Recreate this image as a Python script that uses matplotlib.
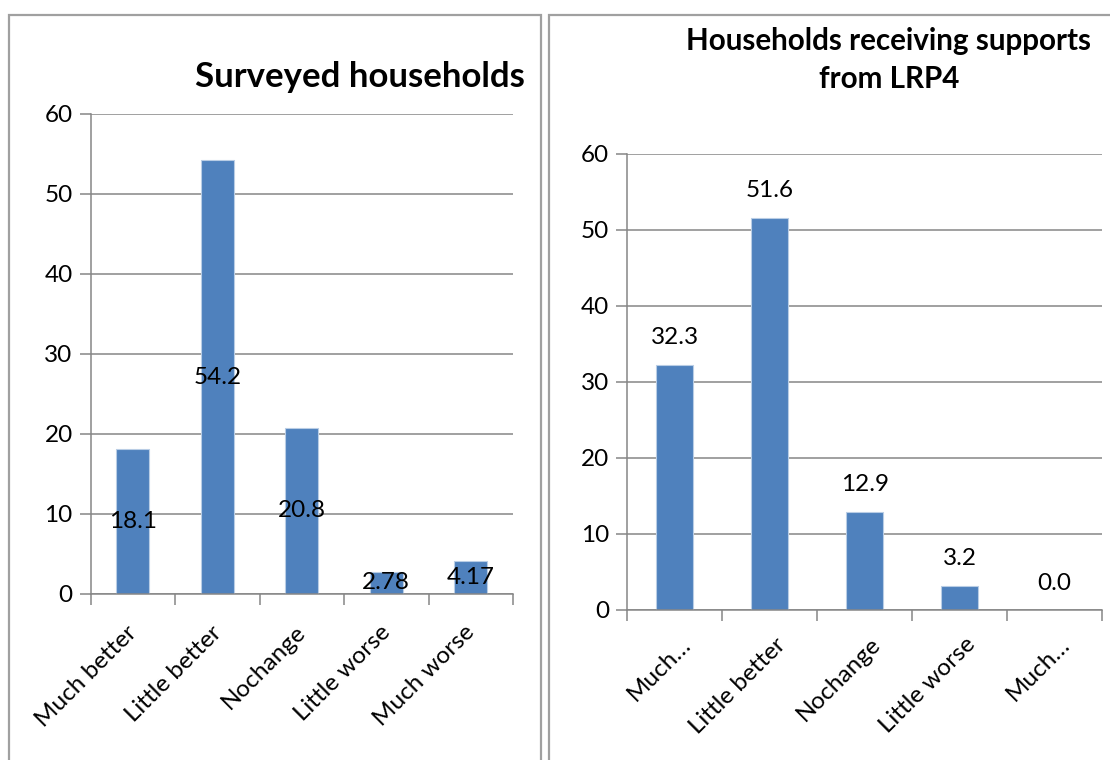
import matplotlib
matplotlib.use("Agg")
import matplotlib.pyplot as plt
import matplotlib.transforms as mtrans
from matplotlib.patches import Rectangle

plt.rcParams['font.family'] = ['Lato', 'DejaVu Sans']

# Data
categories_left = ['Much better', 'Little better', 'Nochange', 'Little worse', 'Much worse']
values_left = [18.1, 54.2, 20.8, 2.78, 4.17]
labels_left = ['18.1', '54.2', '20.8', '2.78', '4.17']

categories_right = ['Much…', 'Little better', 'Nochange', 'Little worse', 'Much…']
values_right = [32.3, 51.6, 12.9, 3.2, 0.0]
labels_right = ['32.3', '51.6', '12.9', '3.2', '0.0']

yticks = [0, 10, 20, 30, 40, 50, 60]

BAR = '#4F81BD'
EDGE = '#B9CDE5'
GRID = '#868686'
W, H = 1110, 760
FS = 17.5

fig = plt.figure(figsize=(W / 100, H / 100), dpi=100)

# panel borders
for x0, x1 in [(9, 541), (549, 1125)]:
    fig.patches.append(Rectangle((x0 / W, 0 - 0.05), (x1 - x0) / W, 1 - 15 / H + 0.05,
                                 transform=fig.transFigure, fill=False,
                                 edgecolor='#A0A0A0', linewidth=1.6))


def style_axes(ax, cats, dx, dy):
    n = len(cats)
    ax.set_xlim(-0.5, n - 0.5)
    ax.set_ylim(0, 60)
    ax.set_yticks(yticks)
    ax.set_xticks([i - 0.5 for i in range(n + 1)])
    ax.set_xticklabels([])
    ax.set_xticks(range(n), minor=True)
    ax.set_xticklabels(cats, minor=True, rotation=45, ha='right',
                       rotation_mode='anchor', fontsize=FS)
    ax.tick_params(axis='x', which='minor', length=0, pad=20)
    ax.tick_params(axis='x', which='major', length=8, color=GRID, width=1.1)
    ax.tick_params(axis='y', length=8, color=GRID, width=1.1, labelsize=FS, pad=5)
    shift = mtrans.ScaledTranslation(dx / 100, dy / 100, fig.dpi_scale_trans)
    for lab in ax.get_xticklabels(minor=True):
        lab.set_transform(lab.get_transform() + shift)
    ax.grid(axis='y', color=GRID, linewidth=1.1)
    ax.set_axisbelow(True)
    for s in ['top', 'right']:
        ax.spines[s].set_visible(False)
    for s in ['left', 'bottom']:
        ax.spines[s].set_color(GRID)
        ax.spines[s].set_linewidth(1.1)


# Left chart
ax1 = fig.add_axes([90.7 / W, 1 - 594 / H, (513 - 90.7) / W, 480 / H])
x = range(len(categories_left))
ax1.bar(x, values_left, width=0.39, color=BAR, edgecolor=EDGE, linewidth=0.8)
for i, v in enumerate(values_left):
    ax1.text(i, v / 2, labels_left[i], ha='center', va='center', fontsize=FS)
style_axes(ax1, categories_left, -7, 0)
fig.text(525 / W, 1 - 77 / H, 'Surveyed households', ha='right', va='center',
         fontsize=25, fontweight='bold')

# Right chart
ax2 = fig.add_axes([627.3 / W, 1 - 610 / H, (1102 - 627.3) / W, 456 / H])
x = range(len(categories_right))
ax2.bar(x, values_right, width=0.39, color=BAR, edgecolor=EDGE, linewidth=0.8)
for i, v in enumerate(values_right):
    ax2.annotate(labels_right[i], (i, v), xytext=(0, 27), textcoords='offset pixels',
                 ha='center', va='center', fontsize=FS)
style_axes(ax2, categories_right, 5, 4)
fig.text(889 / W, 1 - 60 / H, 'Households receiving supports\nfrom LRP4', ha='center',
         va='center', fontsize=21.3, fontweight='bold', linespacing=1.4)

fig.savefig('out.png', dpi=100)
